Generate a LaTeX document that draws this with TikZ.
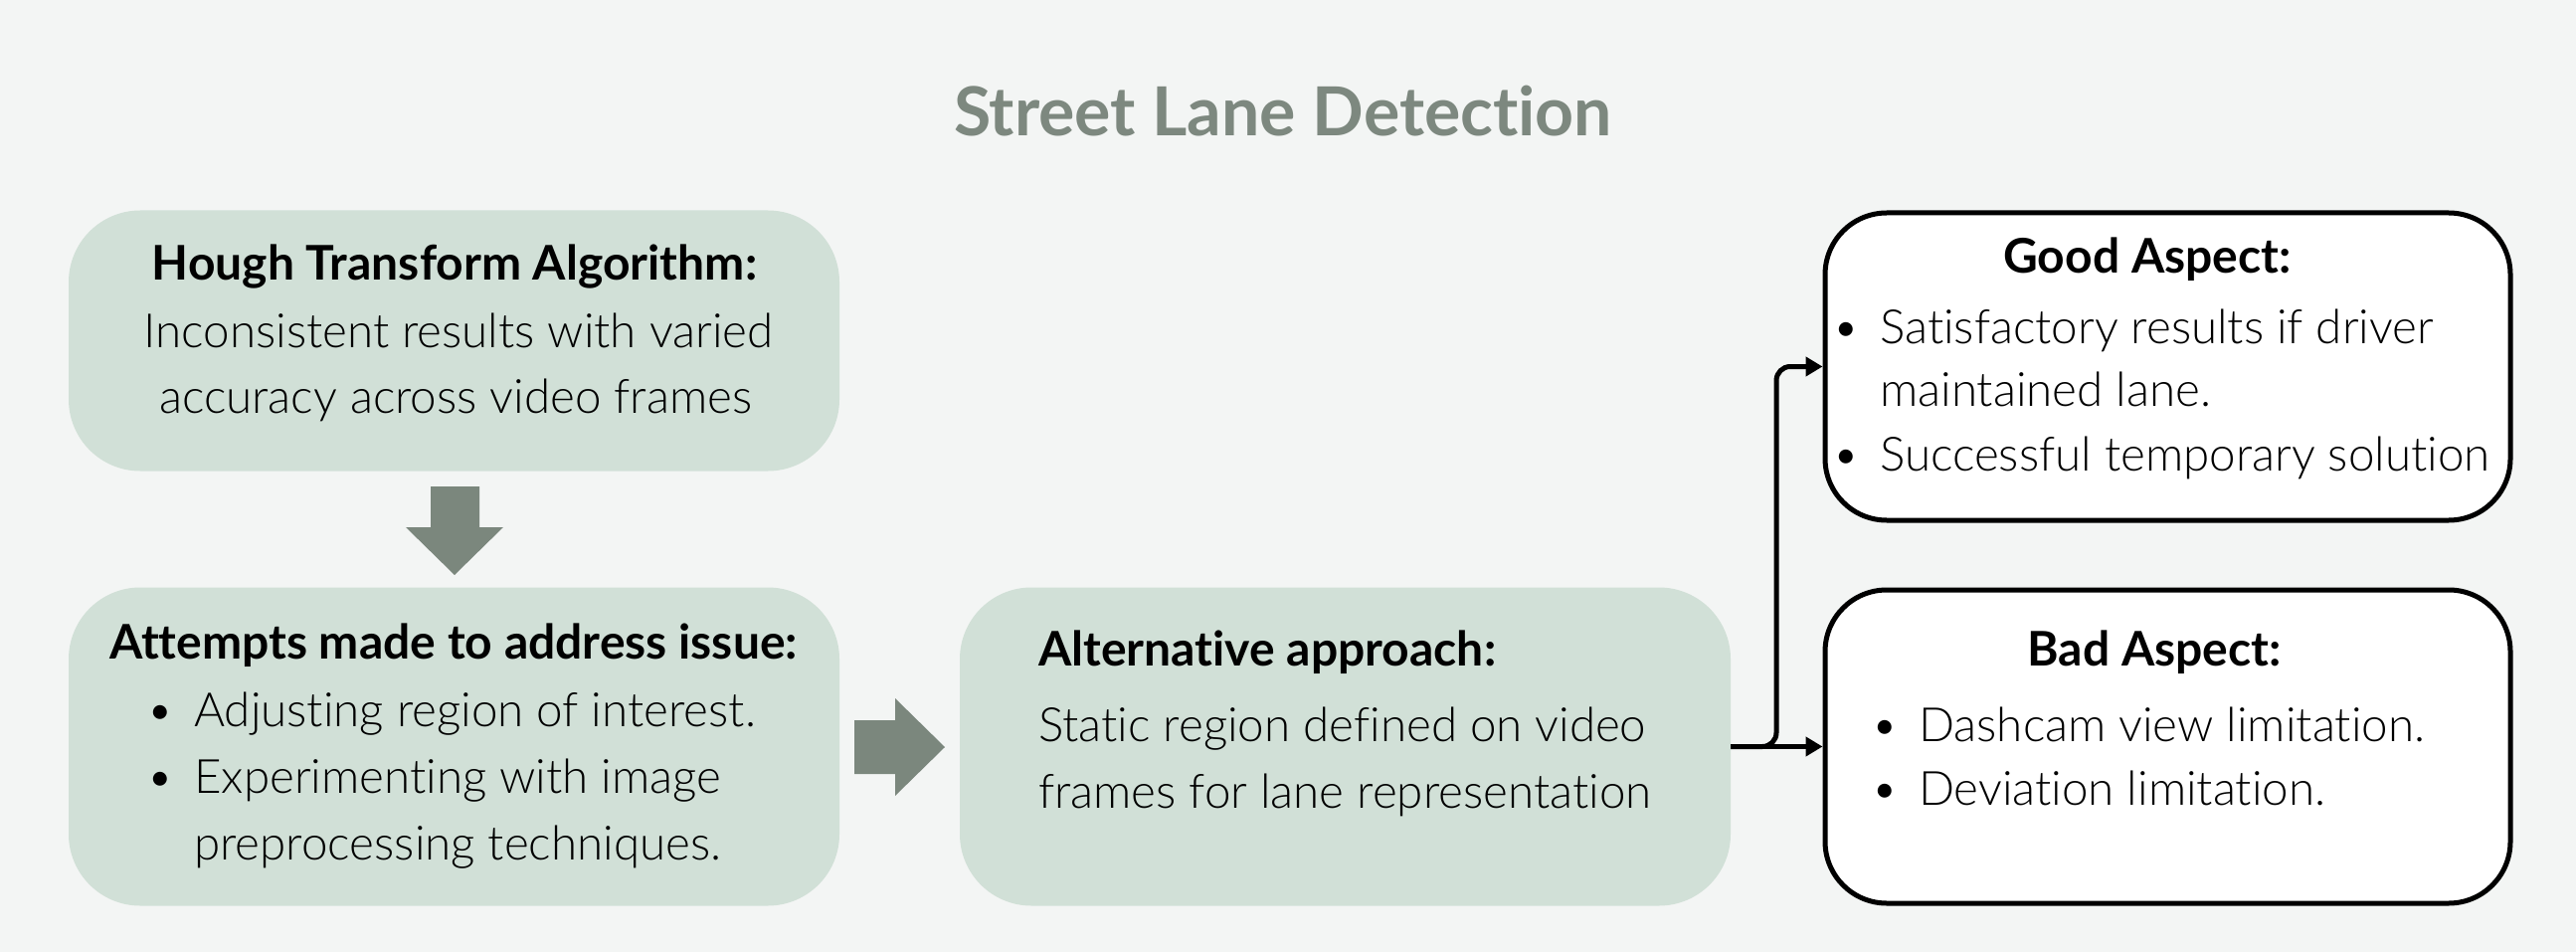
\documentclass[tikz,border=0pt]{standalone}
\usepackage{fontspec}
\setmainfont{Lato}[UprightFont=* Light, BoldFont=* Bold, Ligatures=NoCommon]
\usetikzlibrary{arrows.meta}
\definecolor{bgc}{HTML}{F3F5F4}
\definecolor{sage}{HTML}{D1E0D7}
\definecolor{agray}{HTML}{7B877D}
\definecolor{titlec}{HTML}{7D887F}
\tikzset{
  gbox/.style={rectangle, fill=sage, rounded corners=72pt, inner sep=0pt},
  wbox/.style={rectangle, fill=white, draw=black, line width=5pt, rounded corners=62pt, inner sep=0pt},
  bodytext/.style={font=\fontsize{47.5}{56}\selectfont, inner sep=0pt},
  headtext/.style={font=\bfseries\fontsize{48}{56}\selectfont, inner sep=0pt},
  conn/.style={draw=black, line width=5pt, -{Triangle[length=17pt,width=19pt]}, rounded corners=14pt},
  blockarrow/.style={fill=agray, draw=none},
}
\newcommand{\bul}[1]{\llap{\textbullet\hspace{20pt}}#1}
\begin{document}
\begin{tikzpicture}[x=1pt,y=-1pt]
\fill[bgc] (0,0) rectangle (2590,957);
\useasboundingbox (0,0) rectangle (2590,957);

\node[font=\bfseries\fontsize{68}{80}\selectfont, text=titlec, anchor=base, inner sep=0pt] (title) at (1290,137) {Street Lane Detection};

% boxes
\node[gbox, minimum width=775pt, minimum height=262pt] (hough) at (456.5,342.5) {};
\node[gbox, minimum width=775pt, minimum height=320pt] (attempts) at (456.5,750.5) {};
\node[gbox, minimum width=775pt, minimum height=320pt] (alt) at (1352.5,750.5) {};
\node[wbox, minimum width=689pt, minimum height=309pt] (good) at (2179.5,368.5) {};
\node[wbox, minimum width=689pt, minimum height=315pt] (bad) at (2179.5,750.5) {};

% box 1 text
\node[headtext, anchor=base] (h1) at (457,282) {Hough Transform Algorithm:};
\node[bodytext, anchor=base] (h2) at (461,349) {Inconsistent results with varied};
\node[bodytext, anchor=base] (h3) at (458,415) {accuracy across video frames};

% box 2 text
\node[headtext, anchor=base] (a1) at (456,662) {Attempts made to address issue:};
\node[bodytext, anchor=base west] (a2) at (195,730) {\bul{Adjusting region of interest.}};
\node[bodytext, anchor=base west] (a3) at (195,797) {\bul{Experimenting with image}};
\node[bodytext, anchor=base west] (a4) at (195,864) {preprocessing techniques.};

% box 3 text
\node[headtext, anchor=base west] (b1) at (1044,669) {Alternative approach:};
\node[bodytext, anchor=base west] (b2) at (1044,745) {Static region defined on video};
\node[bodytext, anchor=base west] (b3) at (1044,812) {frames for lane representation};

% good text
\node[headtext, anchor=base] (g1) at (2159,275) {Good Aspect:};
\node[bodytext, anchor=base west] (g2) at (1890,345) {\bul{Satisfactory results if driver}};
\node[bodytext, anchor=base west] (g3) at (1890,408) {maintained lane.};
\node[bodytext, anchor=base west] (g4) at (1890,473) {\bul{Successful temporary solution}};

% bad text
\node[headtext, anchor=base] (d1) at (2166,669) {Bad Aspect:};
\node[bodytext, anchor=base west] (d2) at (1929,745) {\bul{Dashcam view limitation.}};
\node[bodytext, anchor=base west] (d3) at (1929,809) {\bul{Deviation limitation.}};

% block arrows
\path[blockarrow] (433,489) -- (482,489) -- (482,530) -- (506,530) -- (457,578) -- (408,530) -- (433,530) -- cycle;
\path[blockarrow] (859,724) -- (900,724) -- (900,702) -- (950,751) -- (900,800) -- (900,778) -- (859,778) -- cycle;

% connectors
\coordinate (split) at (1786,750.5);
\draw[conn] (alt.east) -- (bad.west);
\draw[conn] (alt.east) -- (split) |- (good.west);
\end{tikzpicture}
\end{document}
